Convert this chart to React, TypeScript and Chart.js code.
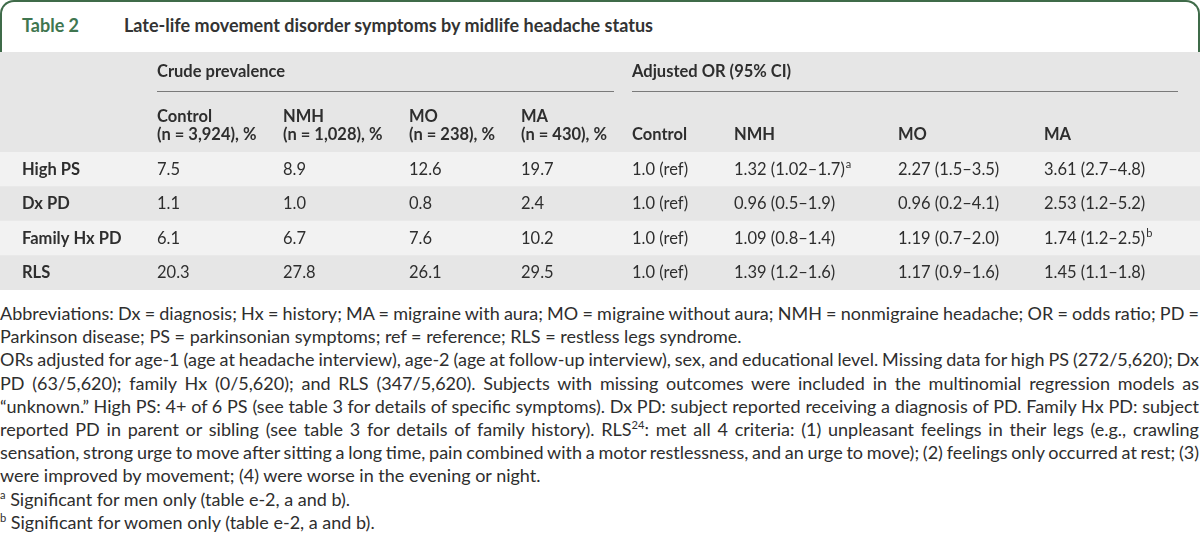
import React, { useEffect, useLayoutEffect, useRef, useState } from 'react';
import { Chart, registerables } from 'chart.js';

Chart.register(...registerables);

// ---------- data ----------
const TABLE_LABEL = 'Table 2';
const TABLE_TITLE = 'Late-life movement disorder symptoms by midlife headache status';
const GROUP_HEADERS = ['Crude prevalence', 'Adjusted OR (95% CI)'];
const CRUDE_HEAD_1 = ['Control', 'NMH', 'MO', 'MA'];
const CRUDE_HEAD_2 = ['(n = 3,924), %', '(n = 1,028), %', '(n = 238), %', '(n = 430), %'];
const OR_HEAD = ['Control', 'NMH', 'MO', 'MA'];
const ROWS = ['High PS', 'Dx PD', 'Family Hx PD', 'RLS'];

const CRUDE_CONTROL = ['7.5', '1.1', '6.1', '20.3'];
const CRUDE_NMH = ['8.9', '1.0', '6.7', '27.8'];
const CRUDE_MO = ['12.6', '0.8', '7.6', '26.1'];
const CRUDE_MA = ['19.7', '2.4', '10.2', '29.5'];

const OR_CONTROL = ['1.0 (ref)', '1.0 (ref)', '1.0 (ref)', '1.0 (ref)'];
const OR_NMH = ['1.32 (1.02–1.7)', '0.96 (0.5–1.9)', '1.09 (0.8–1.4)', '1.39 (1.2–1.6)'];
const OR_MO = ['2.27 (1.5–3.5)', '0.96 (0.2–4.1)', '1.19 (0.7–2.0)', '1.17 (0.9–1.6)'];
const OR_MA = ['3.61 (2.7–4.8)', '2.53 (1.2–5.2)', '1.74 (1.2–2.5)', '1.45 (1.1–1.8)'];
const OR_NMH_NOTE = ['a', '', '', ''];
const OR_MA_NOTE = ['', '', 'b', ''];

// ---------- layout / style ----------
const W = 1200;
const FONT = 'Lato, "Open Sans", sans-serif';
const TEXT = '#2e2e2e';
const HEADER_BG = '#e6e6e6';
const ROW_BG = ['#f2f2f2', '#e6e6e6', '#f2f2f2', '#e6e6e6'];
const COL_X = [22, 157, 283, 409, 521, 632, 734, 898, 1044];
const GROUP_LINE_END = [614, 1178];
const HEAD_H = 100;
const TFS = 16.5;

const tablePlugin = {
  id: 'tableText',
  beforeDatasetsDraw(chart: any) {
    const { ctx, chartArea } = chart;
    ctx.save();
    ctx.fillStyle = HEADER_BG;
    ctx.fillRect(0, 0, chart.width, chartArea.top);
    ctx.restore();
  },
  afterDatasetsDraw(chart: any) {
    const { ctx, chartArea } = chart;
    const xs = chart.scales.x;
    const ys = chart.scales.y;
    const top = chartArea.top;
    const px = (i: number) => xs.getPixelForValue(COL_X[i]);
    ctx.save();
    ctx.textBaseline = 'middle';
    ctx.textAlign = 'left';
    ctx.fillStyle = TEXT;

    // group headers
    ctx.font = `bold ${TFS}px ${FONT}`;
    ctx.fillText(GROUP_HEADERS[0], px(1), top - 80);
    ctx.fillText(GROUP_HEADERS[1], px(5), top - 80);
    ctx.strokeStyle = '#7a7a7a';
    ctx.lineWidth = 1;
    const ly = Math.round(top - 61) + 0.5;
    ctx.beginPath();
    ctx.moveTo(px(1), ly);
    ctx.lineTo(xs.getPixelForValue(GROUP_LINE_END[0]), ly);
    ctx.moveTo(px(5), ly);
    ctx.lineTo(xs.getPixelForValue(GROUP_LINE_END[1]), ly);
    ctx.stroke();

    // column headers
    CRUDE_HEAD_1.forEach((h, i) => {
      ctx.fillText(h, px(1 + i), top - 35);
      ctx.fillText(CRUDE_HEAD_2[i], px(1 + i), top - 17);
    });
    OR_HEAD.forEach((h, i) => ctx.fillText(h, px(5 + i), top - 17));

    // body
    const cols = [CRUDE_CONTROL, CRUDE_NMH, CRUDE_MO, CRUDE_MA, OR_CONTROL, OR_NMH, OR_MO, OR_MA];
    const notes: Record<number, string[]> = { 5: OR_NMH_NOTE, 7: OR_MA_NOTE };
    ROWS.forEach((r, ri) => {
      const yy = ys.getPixelForValue(ri);
      ctx.font = `bold ${TFS}px ${FONT}`;
      ctx.fillText(r, px(0), yy);
      cols.forEach((col, ci) => {
        ctx.font = `${TFS}px ${FONT}`;
        const x0 = px(ci + 1);
        ctx.fillText(col[ri], x0, yy);
        const n = notes[ci] ? notes[ci][ri] : '';
        if (n) {
          const w = ctx.measureText(col[ri]).width;
          ctx.font = `11px ${FONT}`;
          ctx.fillText(n, x0 + w + 1, yy - 5);
        }
      });
    });
    ctx.restore();
  },
};

const sup: React.CSSProperties = { fontSize: '0.62em', verticalAlign: 'super', lineHeight: 0 };

const NOTE_LINES: { c: React.ReactNode; j: boolean }[] = [
  { c: 'Abbreviations: Dx = diagnosis; Hx = history; MA = migraine with aura; MO = migraine without aura; NMH = nonmigraine headache; OR = odds ratio; PD =', j: true },
  { c: 'Parkinson disease; PS = parkinsonian symptoms; ref = reference; RLS = restless legs syndrome.', j: false },
  { c: 'ORs adjusted for age-1 (age at headache interview), age-2 (age at follow-up interview), sex, and educational level. Missing data for high PS (272/5,620); Dx', j: true },
  { c: 'PD (63/5,620); family Hx (0/5,620); and RLS (347/5,620). Subjects with missing outcomes were included in the multinomial regression models as', j: true },
  { c: '“unknown.” High PS: 4+ of 6 PS (see table 3 for details of specific symptoms). Dx PD: subject reported receiving a diagnosis of PD. Family Hx PD: subject', j: true },
  { c: <>reported PD in parent or sibling (see table 3 for details of family history). RLS<span style={sup}>24</span>: met all 4 criteria: (1) unpleasant feelings in their legs (e.g., crawling</>, j: true },
  { c: 'sensation, strong urge to move after sitting a long time, pain combined with a motor restlessness, and an urge to move); (2) feelings only occurred at rest; (3)', j: true },
  { c: 'were improved by movement; (4) were worse in the evening or night.', j: false },
  { c: <><span style={sup}>a</span> Significant for men only (table e-2, a and b).</>, j: false },
  { c: <><span style={sup}>b</span> Significant for women only (table e-2, a and b).</>, j: false },
];

function NoteLine({ c, j }: { c: React.ReactNode; j: boolean }) {
  const ref = useRef<HTMLSpanElement>(null);
  const [ws, setWs] = useState<number | null>(null);
  useLayoutEffect(() => {
    if (!j || !ref.current) return;
    const w = ref.current.getBoundingClientRect().width;
    const spaces = (ref.current.textContent || '').split(' ').length - 1;
    if (spaces > 0) setWs((W - 1 - w) / spaces);
  }, [j]);
  return (
    <div style={{ whiteSpace: 'nowrap' }}>
      <span ref={ref} style={ws === null ? undefined : { wordSpacing: ws }}>{c}</span>
    </div>
  );
}

function TableChart() {
  const ref = useRef<HTMLCanvasElement>(null);
  useEffect(() => {
    if (!ref.current) return;
    const chart = new Chart(ref.current, {
      type: 'bar',
      data: {
        labels: ROWS,
        datasets: [
          {
            data: ROWS.map(() => [0, W]) as any,
            backgroundColor: ROW_BG,
            borderWidth: 0,
            barPercentage: 1,
            categoryPercentage: 1,
          },
        ],
      },
      options: {
        indexAxis: 'y',
        animation: false,
        responsive: true,
        maintainAspectRatio: false,
        layout: { padding: { top: HEAD_H, left: 0, right: 0, bottom: 0 } },
        scales: {
          x: { type: 'linear', min: 0, max: W, display: false },
          y: { type: 'category', display: false },
        },
        plugins: { legend: { display: false }, tooltip: { enabled: false } },
      },
      plugins: [tablePlugin],
    });
    return () => chart.destroy();
  }, []);
  return (
    <div style={{ position: 'absolute', left: 0, top: 52, width: W, height: 238 }}>
      <canvas ref={ref} />
    </div>
  );
}

export default function App() {
  return (
    <div style={{ position: 'relative', width: W, height: 533, background: '#fff', fontFamily: FONT, color: TEXT, overflow: 'hidden' }}>
      <style>{'body{margin:0}'}</style>
      <div
        style={{
          position: 'absolute', left: 0, top: 0, width: W, height: 52, boxSizing: 'border-box',
          border: '2px solid #3f6b49', borderBottom: 'none', borderRadius: '14px 14px 0 0', background: '#fff',
        }}
      >
        <div style={{ position: 'absolute', left: 20, top: 11, fontSize: 18, lineHeight: '24px', fontWeight: 700, color: '#3f7650' }}>{TABLE_LABEL}</div>
        <div style={{ position: 'absolute', left: 122, top: 11, fontSize: 18, lineHeight: '24px', fontWeight: 700, color: '#333' }}>{TABLE_TITLE}</div>
      </div>
      <TableChart />
      <div style={{ position: 'absolute', left: 0, top: 302, width: W, fontSize: 18, lineHeight: '23.2px' }}>
        {NOTE_LINES.map((l, i) => (
          <NoteLine key={i} c={l.c} j={l.j} />
        ))}
      </div>
    </div>
  );
}
